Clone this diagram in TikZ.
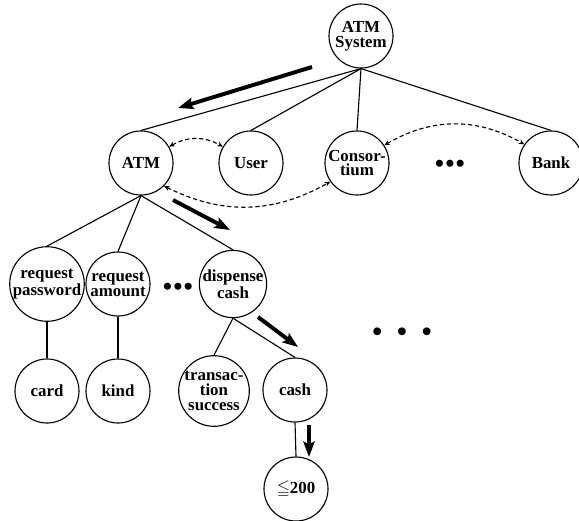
\documentclass[tikz,border=0pt]{standalone}
\usepackage{amssymb}
\usepackage{fontspec}
\setmainfont{Liberation Serif}
\usetikzlibrary{arrows.meta}
\begin{document}
\begin{tikzpicture}[x=0.025cm, y=-0.025cm,
    obj/.style={draw, circle, line width=0.8pt, minimum size=1.6cm, inner sep=0pt,
        align=center, font=\fontsize{12}{10.5}\selectfont\bfseries},
    edge/.style={line width=0.8pt},
    link/.style={line width=0.8pt, dash pattern=on 3pt off 2pt,
        {Stealth[length=4pt,width=3.5pt]}-{Stealth[length=4pt,width=3.5pt]}},
    path/.style={line width=2.8pt, -{Stealth[length=11pt,width=8pt,inset=2pt]}},
    more/.style={inner sep=0pt, font=\fontsize{21}{21}\selectfont}]
    \useasboundingbox (0,0) rectangle (579,520);
    % objects
    \node[obj] (sys) at (361,36) {ATM\\System};
    \node[obj] (atm) at (141,163) {ATM};
    \node[obj] (user) at (251,163) {User};
    \node[obj] (cons) at (357,163) {Consor-\\tium};
    \node[obj] (bank) at (551,163) {Bank};
    \node[obj] (reqpw) at (47,284) {request\\password};
    \node[obj] (reqam) at (118,284) {request\\amount};
    \node[obj] (disp) at (233,284) {dispense\\cash};
    \node[obj] (card) at (47,391) {card};
    \node[obj] (kind) at (118,391) {kind};
    \node[obj] (trans) at (214,391) {transac-\\tion\\success};
    \node[obj] (cash) at (295,390) {cash};
    \node[obj] (limit) at (296,489) {$\leqq$200};
    \node[more] (dots1) at (450,167) {•••};
    \node[more] (dots2) at (178,290) {•••};
    \node[more, font=\fontsize{23}{23}\selectfont] (dots3) at (402,335)
        {•\hspace{9.5pt}•\hspace{9.5pt}•};
    % tree
    \draw[edge] (sys.south) -- (atm.north);
    \draw[edge] (sys.south) -- (user.north);
    \draw[edge] (sys.south) -- (cons.north);
    \draw[edge] (sys.south) -- (bank.north);
    \draw[edge] (atm.south) -- (reqpw.north);
    \draw[edge] (atm.south) -- (reqam.north);
    \draw[edge] (atm.south) -- (disp.north);
    \draw[edge] (reqpw.south) -- (card.north);
    \draw[edge] (reqam.south) -- (kind.north);
    \draw[edge] (disp.south) -- (trans.north);
    \draw[edge] (disp.south) -- (cash.north);
    \draw[edge] (cash.south) -- (limit.north);
    % links
    \draw[link] (atm.30) to[bend left=30] (user.150);
    \draw[link] (cons.33) to[bend left=30] (bank.145);
    \draw[link] (atm.-45) to[bend right=28] (cons.215);
    % navigation
    \coordinate (p1) at (312,67);
    \coordinate (q1) at (178,108);
    \coordinate (p2) at (173,200);
    \coordinate (q2) at (230,230);
    \coordinate (p3) at (258,317);
    \coordinate (q3) at (298,347);
    \coordinate (p4) at (309,425);
    \coordinate (q4) at (309,457);
    \draw[path] (p1) -- (q1);
    \draw[path] (p2) -- (q2);
    \draw[path] (p3) -- (q3);
    \draw[path] (p4) -- (q4);
\end{tikzpicture}
\end{document}
